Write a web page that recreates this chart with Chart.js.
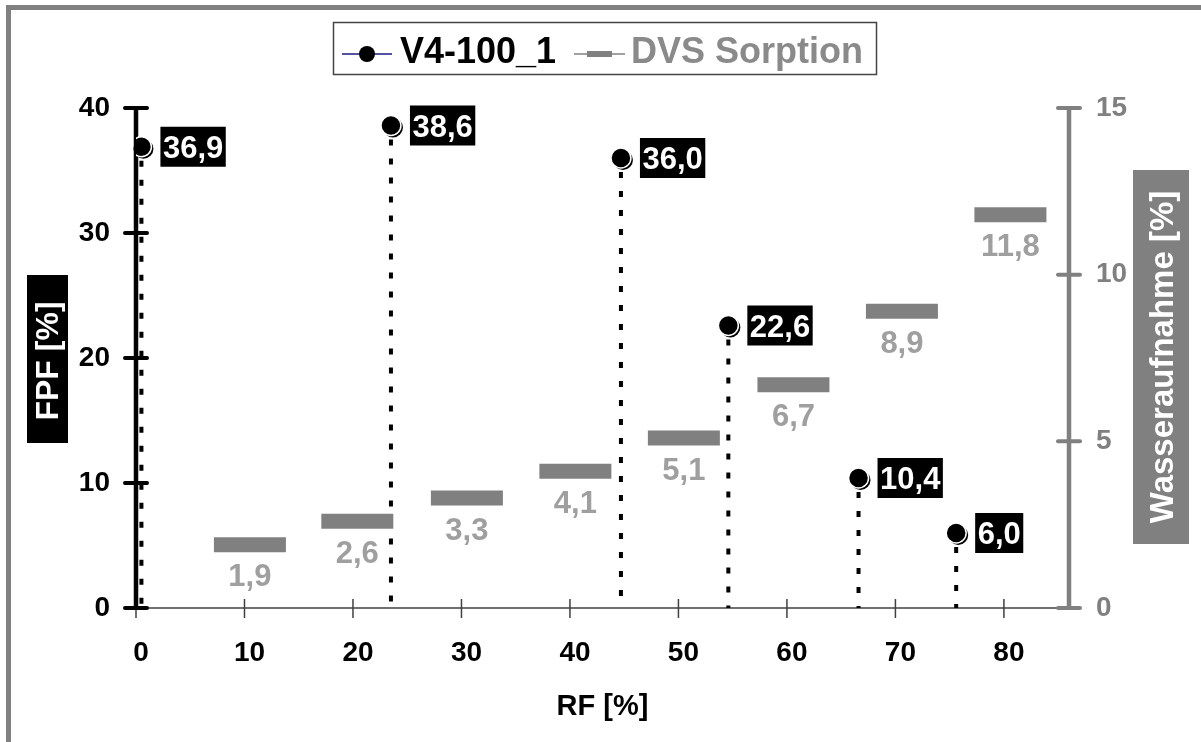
<!DOCTYPE html>
<html><head><meta charset="utf-8">
<script src="https://cdn.jsdelivr.net/npm/chart.js@4"></script>
<style>html,body{margin:0;padding:0;background:#fff}#wrap{width:1201px;height:742px;position:relative}</style>
</head><body><div id="wrap"><canvas id="c"></canvas></div>
<script>
// ---- data ----
const rfFPF = [0.5, 23.5, 44.7, 54.6, 66.6, 75.6];
const fpfValues = [36.9, 38.6, 36.0, 22.6, 10.4, 6.0];
const rfDVS = [10.5, 20.4, 30.5, 40.5, 50.5, 60.6, 70.6, 80.6];
const dvsValues = [1.9, 2.6, 3.3, 4.1, 5.1, 6.7, 8.9, 11.8];
const xTicks = [0, 10, 20, 30, 40, 50, 60, 70, 80];
const fpfTicks = [0, 10, 20, 30, 40];
const dvsTicks = [0, 5, 10, 15];
const seriesNames = ['V4-100_1', 'DVS Sorption'];
const xTitle = 'RF [%]';
const yTitle = 'FPF [%]';
const y2Title = 'Wasseraufnahme [%]';

const FONT = '"Liberation Sans", Arial, sans-serif';
const GRAY = '#808080';
const LGRAY = '#9f9f9f';
const fmt = v => v.toFixed(1).replace('.', ',');

const deco = {
  id: 'deco',
  beforeDraw(chart) {
    const ctx = chart.ctx;
    ctx.save();
    ctx.fillStyle = '#fff';
    ctx.fillRect(0, 0, chart.width, chart.height);
    // outer frame (left + top visible)
    ctx.strokeStyle = GRAY; ctx.lineWidth = 5;
    ctx.beginPath(); ctx.moveTo(8.5, 800); ctx.lineTo(8.5, 7.5); ctx.lineTo(1250, 7.5); ctx.stroke();
    ctx.restore();
  },
  beforeDatasetsDraw(chart) {
    const ctx = chart.ctx, a = chart.chartArea;
    const xs = chart.scales.x, ys = chart.scales.y, y2s = chart.scales.y2;
    ctx.save();
    // x axis
    ctx.strokeStyle = '#404040'; ctx.lineWidth = 1.5;
    ctx.beginPath(); ctx.moveTo(a.left, a.bottom); ctx.lineTo(a.right, a.bottom); ctx.stroke();
    xTicks.forEach(v => {
      const px = xs.getPixelForValue(v);
      ctx.beginPath(); ctx.moveTo(px, a.bottom - 9); ctx.lineTo(px, a.bottom + 10); ctx.stroke();
    });
    // left axis
    ctx.strokeStyle = '#000'; ctx.lineWidth = 4.5; ctx.lineCap = 'butt';
    ctx.beginPath(); ctx.moveTo(a.left, ys.getPixelForValue(40)); ctx.lineTo(a.left, ys.getPixelForValue(0)); ctx.stroke();
    ctx.lineCap = 'round'; ctx.lineWidth = 4;
    fpfTicks.forEach(v => {
      const py = ys.getPixelForValue(v);
      ctx.beginPath(); ctx.moveTo(a.left - 11, py); ctx.lineTo(a.left + 11, py); ctx.stroke();
    });
    // right axis
    ctx.strokeStyle = GRAY; ctx.lineWidth = 4.5; ctx.lineCap = 'butt';
    ctx.beginPath(); ctx.moveTo(a.right, y2s.getPixelForValue(15)); ctx.lineTo(a.right, y2s.getPixelForValue(0)); ctx.stroke();
    ctx.lineCap = 'round'; ctx.lineWidth = 4;
    dvsTicks.forEach(v => {
      const py = y2s.getPixelForValue(v);
      ctx.beginPath(); ctx.moveTo(a.right - 11, py); ctx.lineTo(a.right + 11, py); ctx.stroke();
    });
    // drop lines
    ctx.lineCap = 'butt'; ctx.strokeStyle = '#000'; ctx.lineWidth = 4; ctx.setLineDash([6, 13]);
    rfFPF.forEach((x, i) => {
      const px = xs.getPixelForValue(x), py = ys.getPixelForValue(fpfValues[i]);
      ctx.beginPath(); ctx.moveTo(px, py + 14); ctx.lineTo(px, a.bottom); ctx.stroke();
    });
    ctx.setLineDash([]);
    // point shadows
    ctx.fillStyle = '#000';
    rfFPF.forEach((x, i) => {
      const px = xs.getPixelForValue(x), py = ys.getPixelForValue(fpfValues[i]);
      ctx.beginPath(); ctx.arc(px + 2, py + 2, 10, 0, Math.PI * 2); ctx.fill();
    });
    ctx.restore();
  },
  afterDatasetsDraw(chart) {
    const ctx = chart.ctx, a = chart.chartArea;
    const xs = chart.scales.x, ys = chart.scales.y, y2s = chart.scales.y2;
    ctx.save();
    // FPF labels
    ctx.font = 'bold 31px ' + FONT; ctx.textBaseline = 'alphabetic'; ctx.textAlign = 'left';
    rfFPF.forEach((x, i) => {
      const px = xs.getPixelForValue(x), py = ys.getPixelForValue(fpfValues[i]);
      const t = fmt(fpfValues[i]); const w = ctx.measureText(t).width;
      ctx.fillStyle = '#000'; ctx.fillRect(px + 19, py - 20, w + 5, 40);
      ctx.fillStyle = '#fff'; ctx.fillText(t, px + 21.5, py + 11);
    });
    // DVS labels
    ctx.font = 'bold 31px ' + FONT; ctx.textAlign = 'center'; ctx.fillStyle = LGRAY;
    rfDVS.forEach((x, i) => {
      const px = xs.getPixelForValue(x), py = y2s.getPixelForValue(dvsValues[i]);
      ctx.fillText(fmt(dvsValues[i]), px, py + 41.5);
    });
    // axis titles
    ctx.fillStyle = '#000'; ctx.fillRect(27, 275, 41, 168);
    ctx.save(); ctx.translate(57.5, 361); ctx.rotate(-Math.PI / 2);
    ctx.font = 'bold 32px ' + FONT; ctx.fillStyle = '#fff'; ctx.textAlign = 'center'; ctx.fillText(yTitle, 0, 0);
    ctx.restore();
    ctx.fillStyle = GRAY; ctx.fillRect(1133, 170, 56, 374);
    ctx.save(); ctx.translate(1173, 357); ctx.rotate(-Math.PI / 2);
    ctx.font = 'bold 33px ' + FONT; ctx.fillStyle = '#fff'; ctx.textAlign = 'center'; ctx.fillText(y2Title, 0, 0);
    ctx.restore();
    ctx.font = 'bold 29px ' + FONT; ctx.fillStyle = '#000'; ctx.textAlign = 'center';
    ctx.fillText(xTitle, (a.left + a.right) / 2, 715);
    // legend
    ctx.strokeStyle = '#444'; ctx.lineWidth = 1.5; ctx.strokeRect(333.5, 22.5, 543, 52);
    ctx.strokeStyle = '#1a1a80'; ctx.lineWidth = 1.5;
    ctx.beginPath(); ctx.moveTo(342, 54); ctx.lineTo(392, 54); ctx.stroke();
    ctx.fillStyle = '#000'; ctx.beginPath(); ctx.arc(367, 54, 8, 0, Math.PI * 2); ctx.fill();
    ctx.font = 'bold 36px ' + FONT; ctx.textAlign = 'left';
    ctx.fillText(seriesNames[0], 400, 63);
    ctx.strokeStyle = GRAY; ctx.lineWidth = 1.5;
    ctx.beginPath(); ctx.moveTo(574, 54); ctx.lineTo(625, 54); ctx.stroke();
    ctx.fillStyle = GRAY; ctx.fillRect(587, 51, 25, 6);
    ctx.fillStyle = '#8a8a8a'; ctx.fillText(seriesNames[1], 631, 63);
    ctx.restore();
  }
};

new Chart(document.getElementById('c'), {
  type: 'scatter',
  data: {
    datasets: [
      {
        label: seriesNames[0],
        data: rfFPF.map((x, i) => ({ x, y: fpfValues[i] })),
        yAxisID: 'y',
        pointRadius: 10,
        pointBackgroundColor: '#000',
        pointBorderColor: '#fff',
        pointBorderWidth: 1.5,
        showLine: false
      },
      {
        label: seriesNames[1],
        data: rfDVS.map((x, i) => ({ x, y: dvsValues[i] })),
        yAxisID: 'y2',
        pointStyle: 'line',
        pointRadius: 36,
        pointBorderColor: GRAY,
        pointBackgroundColor: GRAY,
        pointBorderWidth: 15,
        showLine: false
      }
    ]
  },
  options: {
    responsive: true,
    maintainAspectRatio: false,
    animation: false,
    events: [],
    layout: { padding: { top: 108, left: 0, right: 0, bottom: 0 } },
    plugins: { legend: { display: false }, tooltip: { enabled: false } },
    scales: {
      x: {
        type: 'linear', min: 0, max: 86,
        grid: { display: false, drawTicks: false }, border: { display: false },
        afterBuildTicks: s => { s.ticks = xTicks.map(v => ({ value: v })); },
        afterFit: s => { s.height = 134; },
        ticks: { autoSkip: false, maxRotation: 0, padding: 28, labelOffset: 5, color: '#000', font: { family: FONT, size: 28, weight: 'bold' } }
      },
      y: {
        type: 'linear', position: 'left', min: 0, max: 40,
        grid: { display: false, drawTicks: false }, border: { display: false },
        afterBuildTicks: s => { s.ticks = fpfTicks.map(v => ({ value: v })); },
        afterFit: s => { s.width = 136; },
        ticks: { padding: 26, color: '#000', font: { family: FONT, size: 28, weight: 'bold' } }
      },
      y2: {
        type: 'linear', position: 'right', min: 0, max: 15,
        grid: { display: false, drawTicks: false }, border: { display: false },
        afterBuildTicks: s => { s.ticks = dvsTicks.map(v => ({ value: v })); },
        afterFit: s => { s.width = 132; },
        ticks: { padding: 27, color: GRAY, font: { family: FONT, size: 28, weight: 'bold' } }
      }
    }
  },
  plugins: [deco]
});
</script>
</body></html>
